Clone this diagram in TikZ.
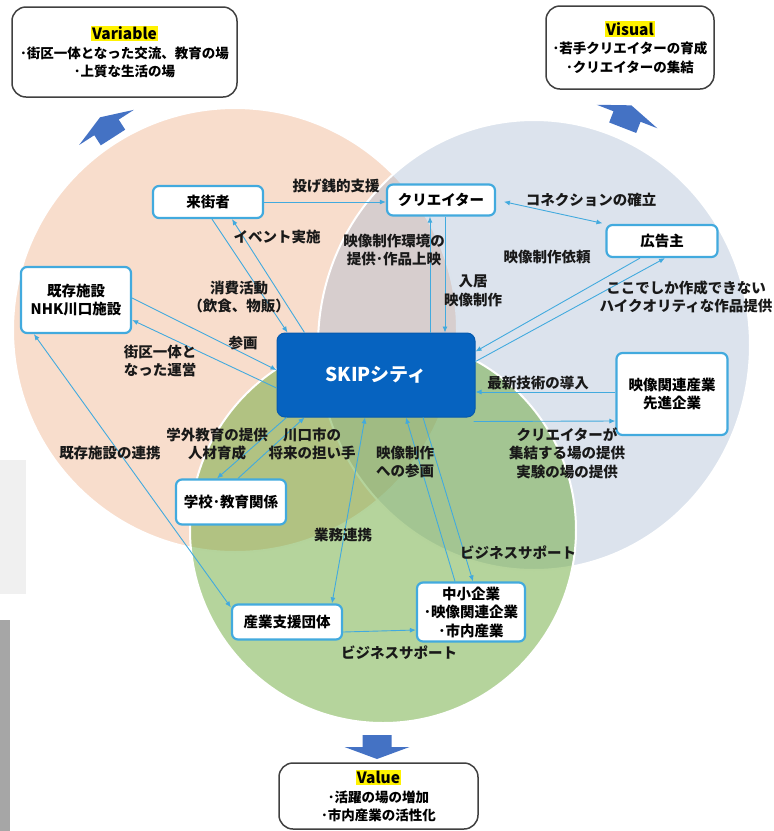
\documentclass[tikz,border=0pt]{standalone}
\usepackage{fontspec}
\newfontfamily\jpfont{Noto Sans CJK JP}
\usepackage{tikz}
\usetikzlibrary{arrows.meta}
\definecolor{peach}{RGB}{248,221,204}
\definecolor{greyblue}{RGB}{167,185,210}
\definecolor{leafgreen}{RGB}{107,169,57}
\definecolor{linkblue}{RGB}{66,170,222}
\definecolor{skipblue}{RGB}{6,99,192}
\definecolor{arrowblue}{RGB}{68,114,196}
\definecolor{panelgrey}{RGB}{240,240,240}
\definecolor{bargrey}{RGB}{166,166,166}
\setlength{\fboxsep}{1pt}
\newcommand\goalhead[1]{{\fontsize{15.5}{18.5}\selectfont\colorbox{yellow}{#1}}}
\tikzset{box/.style={draw=linkblue, line width=2.2pt, fill=white, rounded corners=6pt, align=center, inner sep=0pt, font=\jpfont\bfseries\fontsize{14.5}{18.5}\selectfont}}
\tikzset{goal/.style={draw=black!75, line width=1.5pt, fill=white, rounded corners=14pt, align=center, inner sep=0pt, font=\jpfont\bfseries\fontsize{13.5}{18.5}\selectfont}}
\tikzset{lbl/.style={align=center, inner sep=0pt, text=black!90, font=\jpfont\bfseries\fontsize{14.5}{18.5}\selectfont}}
\tikzset{link/.style={draw=linkblue, line width=0.9pt, -{Latex[length=6pt,width=5pt]}}}
\tikzset{twoway/.style={link, {Latex[length=6pt,width=5pt]}-{Latex[length=6pt,width=5pt]}}}

\begin{document}
\begin{tikzpicture}[x=1pt,y=-1pt]
\useasboundingbox (0,0) rectangle (774,831);
\fill[panelgrey] (0,460) rectangle (26,594);
\fill[bargrey] (0,620) rectangle (10,831);
\filldraw[fill=peach, draw=white, line width=2pt] (235,330) circle (222pt);
\filldraw[fill=greyblue, fill opacity=0.4, draw=white, line width=2pt] (534,345) ellipse (216pt and 225pt);
\filldraw[fill=leafgreen, fill opacity=0.5, draw=white, line width=2pt] (383,530) circle (193pt);
\foreach \px/\py/\ang in {113/137.5/32.7, 622.7/127.7/-21.2, 377/735/180} {
\fill[arrowblue, shift={(\px,\py)}, rotate=\ang] (-14.5,0) -- (-14.5,-12) -- (-32.5,-12) -- (0,-24) -- (32.5,-12) -- (14.5,-12) -- (14.5,0) -- cycle;
}
\node[goal, minimum width=225pt, minimum height=90pt] (variable) at (124.5,52) {\goalhead{Variable}\\･街区一体となった交流、教育の場\\･上質な生活の場};
\node[goal, minimum width=168pt, minimum height=83pt] (visual) at (630,47.5) {\goalhead{Visual}\\･若手クリエイターの育成\\･クリエイターの集結};
\node[goal, minimum width=199pt, minimum height=66pt] (value) at (378.5,796) {\goalhead{Value}\\･活躍の場の増加\\･市内産業の活性化};

\node[box, minimum width=110pt, minimum height=32pt] (visitor) at (208,202) {来街者};
\node[box, minimum width=108pt, minimum height=31pt] (creator) at (441,200) {クリエイター};
\node[box, minimum width=111pt, minimum height=32pt] (sponsor) at (662,241) {広告主};
\node[box, minimum width=110pt, minimum height=66pt] (facility) at (76,300) {既存施設\\NHK川口施設};
\node[box, minimum width=111pt, minimum height=82pt] (advanced) at (672,394) {映像関連産業\\先進企業};
\node[box, minimum width=110pt, minimum height=45pt] (school) at (231,502) {学校･教育関係};
\node[box, minimum width=110pt, minimum height=35pt] (support) at (287,622) {産業支援団体};
\node[box, minimum width=108pt, minimum height=59pt] (sme) at (471,612) {中小企業\\･映像関連企業\\･市内産業};
\node[box, draw=skipblue!90!black, line width=1pt, fill=skipblue, rounded corners=8pt, text=white, minimum width=198pt, minimum height=84pt, font=\jpfont\bfseries\fontsize{19}{22}\selectfont] (skip) at (376,375) {SKIPシティ};

\draw[link] (visitor.east) -- (visitor.east -| creator.west);
\draw[link] ([xshift=4pt]visitor.south) -- ([xshift=11pt]skip.north west);
\draw[link] ([xshift=28pt]skip.north west) -- ([xshift=24pt]visitor.south);
\draw[link] ([xshift=54pt]skip.north) -- ([xshift=-11pt]creator.south);
\draw[link] ([xshift=4pt]creator.south) -- ([xshift=69pt]skip.north);
\draw[twoway, shorten <=8pt, shorten >=3pt] (creator.east) -- (sponsor.north west);
\draw[link] ([xshift=-22pt]sponsor.south) -- ([yshift=-19pt]skip.north east);
\draw[link] ([yshift=-29pt]skip.north east) -- ([xshift=3pt]sponsor.south);
\draw[link] ([yshift=2pt]advanced.west) -- ([yshift=-17pt]skip.east);
\draw[link] ([xshift=-2pt,yshift=-4pt]skip.south east) -- ([yshift=-27pt]advanced.west);
\draw[link] ([yshift=2pt]facility.east) -- ([yshift=5pt]skip.west);
\draw[link] ([yshift=-13pt]skip.west) -- ([yshift=-20pt]facility.east);
\draw[twoway] ([xshift=14pt]facility.south west) -- ([yshift=-4pt]support.north west);
\draw[link] ([xshift=10pt]skip.south west) -- ([xshift=-14pt]school.north);
\draw[link] ([xshift=7pt]school.north) -- ([xshift=28pt]skip.south west);
\draw[twoway] ([xshift=-11pt]skip.south) -- ([xshift=45pt]support.north);
\draw[link] ([xshift=-16pt]sme.north) -- ([xshift=30pt]skip.south);
\draw[link] ([xshift=47pt]skip.south) -- ([xshift=2pt]sme.north);
\draw[link] ([yshift=-10pt]support.east) -- ([yshift=-18pt]sme.west);

\node[lbl] (tip) at (336,186) {投げ銭的支援};
\node[lbl] (event) at (277,237) {イベント実施};
\node[lbl] (studio) at (394,250) {映像制作環境の\\提供･作品上映};
\node[lbl] (resident) at (473,291) {入居\\映像制作};
\node[lbl] (connect) at (591,200) {コネクションの確立};
\node[lbl] (order) at (547,257) {映像制作依頼};
\node[lbl] (quality) at (686,297) {ここでしか作成できない\\ハイクオリティな作品提供};
\node[lbl] (spend) at (239,297) {消費活動\\（飲食、物販）};
\node[lbl] (join) at (243,343) {参画};
\node[lbl] (district) at (160,361) {街区一体と\\なった運営};
\node[lbl] (tech) at (538,383) {最新技術の導入};
\node[lbl] (venue) at (567,453) {クリエイターが\\集結する場の提供\\実験の場の提供};
\node[lbl] (edu) at (217,444) {学外教育の提供\\人材育成};
\node[lbl] (future) at (312,444) {川口市の\\将来の担い手};
\node[lbl] (link) at (110,453) {既存施設の連携};
\node[lbl] (produce) at (405,462) {映像制作\\への参画};
\node[lbl] (work) at (343,535) {業務連携};
\node[lbl] (bizright) at (518,553) {ビジネスサポート};
\node[lbl] (bizlow) at (399,653) {ビジネスサポート};
\end{tikzpicture}
\end{document}
